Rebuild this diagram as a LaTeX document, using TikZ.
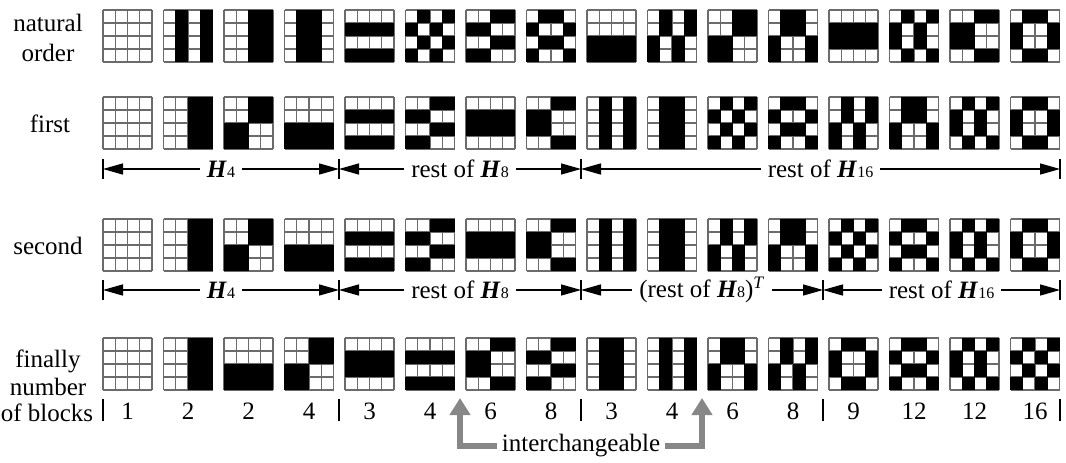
\documentclass[tikz,border=0pt]{standalone}
\usepackage{fontspec}
\setmainfont{Liberation Serif}
\usetikzlibrary{arrows.meta,calc}
\newcommand\HH[1]{\textbf{\textit{H}}{\fontsize{16}{16}\selectfont #1}}
\newcommand\drawpat[4]{%
  \foreach \kk in {0,...,4}{%
    \draw[gridline] ({#1+\kk*12.25},{#2}) -- ++(0,52);
    \draw[gridline] ({#1},{#2+\kk*13}) -- ++(49,0);
  }%
  \foreach \ii in {1,...,4}{\foreach \jj in {1,...,4}{%
    \pgfmathtruncatemacro\bb{mod(mod(floor(#3/2^(4-\ii)),2)+mod(floor(#4/2^(4-\jj)),2),2)}%
    \ifnum\bb=1 \fill ({#1+(\jj-1)*12.25-0.4},{#2+(\ii-1)*13-0.4}) rectangle ++(13.05,13.8);\fi
  }}%
}
\newcommand\patrow[2]{%
  \foreach \rr/\cc [count=\kp] in {#2}{%
    \pgfmathsetmacro\px{103+60.5*(\kp-1)}%
    \drawpat{\px}{#1}{\rr}{\cc}%
  }%
}
\begin{document}
\begin{tikzpicture}[x=1pt,y=-1pt,
  gridline/.style={draw=black!58,line width=1.2pt},
  lbl/.style={font=\fontsize{25}{30}\selectfont, align=center, inner sep=0pt},
  span/.style={line width=1.3pt,{Triangle[length=20pt,width=11pt]}-{Triangle[length=20pt,width=11pt]}},
  tick/.style={line width=1.5pt},
  spanlbl/.style={font=\fontsize{25}{28}\selectfont, fill=white, inner xsep=7pt, inner ysep=1pt},
  num/.style={font=\fontsize{25}{28}\selectfont, inner sep=0pt, anchor=base},
  grayarrow/.style={draw=black!47, line width=6pt, -{Triangle[length=17pt,width=20pt]}},
]
\useasboundingbox (0,0) rectangle (1066,463);

% pattern rows (a=0, b=5, c=3, d=6)
\patrow{10}{0/0,0/5,0/3,0/6,5/0,5/5,5/3,5/6,3/0,3/5,3/3,3/6,6/0,6/5,6/3,6/6}
\patrow{97}{0/0,0/3,3/3,3/0,5/0,5/3,6/0,6/3,0/5,0/6,5/5,5/6,3/5,3/6,6/5,6/6}
\patrow{219}{0/0,0/3,3/3,3/0,5/0,5/3,6/0,6/3,0/5,0/6,3/5,3/6,5/5,5/6,6/5,6/6}
\patrow{338}{0/0,0/3,3/0,3/3,6/0,5/0,6/3,5/3,0/6,0/5,3/6,3/5,6/6,5/6,6/5,5/5}

% left labels
\node[lbl] (lnat) at (48,38) {natural\\order};
\node[lbl] (lfirst) at (50,124) {first};
\node[lbl] (lsecond) at (48,246) {second};
\node[lbl,anchor=base] (lfin) at (48,367) {finally};
\node[lbl,anchor=base] (lnum) at (48,395) {number};
\node[lbl,anchor=base] (lblk) at (47,421) {of blocks};

% first span row
\foreach \nm/\xx in {a/103,b/339,c/581,d/1060}{
  \coordinate (p\nm) at (\xx,169);
  \draw[tick] ([yshift=-10pt]p\nm) -- ([yshift=10pt]p\nm);
}
\draw[span] (pa) -- (pb);
\draw[span] (pb) -- (pc);
\draw[span] (pc) -- (pd);
\node[spanlbl] (fa) at ($(pa)!0.5!(pb)$) {\HH{4}};
\node[spanlbl] (fb) at ($(pb)!0.5!(pc)$) {rest of \HH{8}};
\node[spanlbl] (fc) at ($(pc)!0.5!(pd)$) {rest of \HH{16}};

% second span row
\foreach \nm/\xx in {a/103,b/339,c/581,d/823,e/1060}{
  \coordinate (q\nm) at (\xx,290);
  \draw[tick] ([yshift=-10pt]q\nm) -- ([yshift=10pt]q\nm);
}
\draw[span] (qa) -- (qb);
\draw[span] (qb) -- (qc);
\draw[span] (qc) -- (qd);
\draw[span] (qd) -- (qe);
\node[spanlbl] (sa) at ($(qa)!0.5!(qb)$) {\HH{4}};
\node[spanlbl] (sb) at ($(qb)!0.5!(qc)$) {rest of \HH{8}};
\node[spanlbl] (sc) at ($(qc)!0.5!(qd)$) {(rest of \HH{8})\textsuperscript{\textit{T}}};
\node[spanlbl] (sd) at ($(qd)!0.5!(qe)$) {rest of \HH{16}};

% numbers of blocks
\foreach \nm/\xx in {a/103,b/339,c/581,d/823,e/1060}{
  \coordinate (r\nm) at (\xx,410);
  \draw[tick] ([yshift=-11pt]r\nm) -- ([yshift=11pt]r\nm);
}
\foreach \v [count=\kn] in {1,2,2,4,3,4,6,8,3,4,6,8,9,12,12,16}{
  \pgfmathsetmacro\nx{127.5+60.5*(\kn-1)}
  \node[num] (n\kn) at (\nx,419) {\v};
}

% interchangeable
\node[lbl] (inter) at (581,446) {interchangeable};
\coordinate (tipL) at (460,398);
\coordinate (tipR) at (702,398);
\draw[grayarrow] ([xshift=-5pt]inter.west) -| (tipL);
\draw[grayarrow] ([xshift=5pt]inter.east) -| (tipR);
\end{tikzpicture}
\end{document}
